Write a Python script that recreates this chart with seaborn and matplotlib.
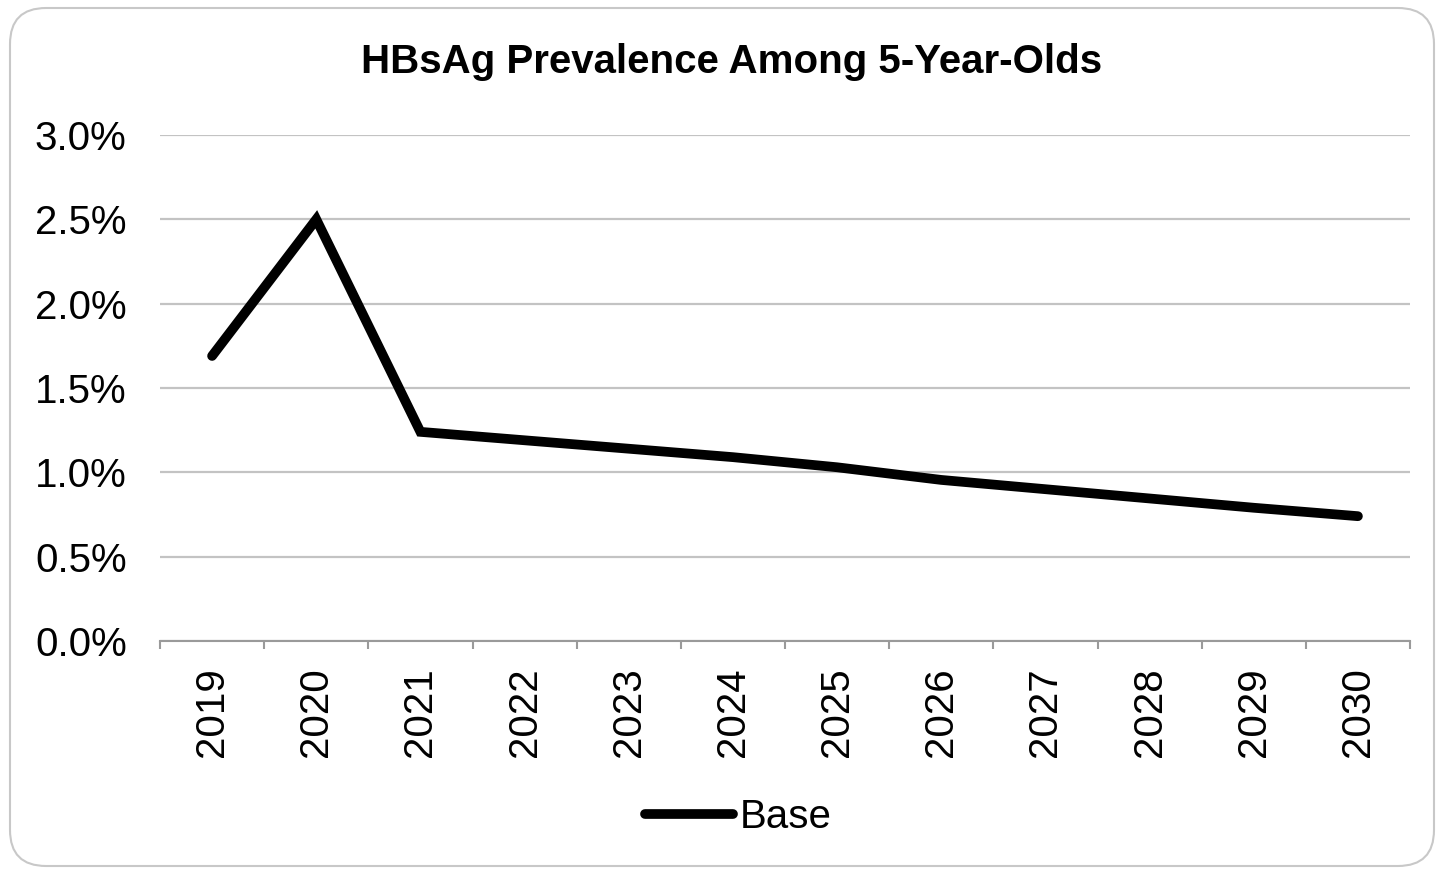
import matplotlib
matplotlib.use("Agg")
import matplotlib.pyplot as plt
from matplotlib.patches import FancyBboxPatch
from matplotlib.ticker import FuncFormatter, FixedLocator
import numpy as np
import pandas as pd
import seaborn as sns

years = [2019, 2020, 2021, 2022, 2023, 2024, 2025, 2026, 2027, 2028, 2029, 2030]
base = [0.0169, 0.0250, 0.0124, 0.0119, 0.0114, 0.0109, 0.0103,
        0.00955, 0.0090, 0.00845, 0.0079, 0.0074]
series_name = "Base"
title = "HBsAg Prevalence Among 5-Year-Olds"

df = pd.DataFrame({"Year": years, "Prevalence": base, "Scenario": series_name})

sns.set_theme(style="white")
plt.rcParams["font.family"] = ["Liberation Sans", "DejaVu Sans"]
plt.rcParams["text.color"] = "black"

FS = 29
W, H = 1443, 869

fig = plt.figure(figsize=(W / 100, H / 100), dpi=100)
ax = fig.add_axes([160 / W, 1 - 641 / H, 1250 / W, (641 - 135) / H])

sns.lineplot(data=df, x="Year", y="Prevalence", hue="Scenario",
             palette=["black"], linewidth=7, ax=ax, legend=False,
             solid_capstyle="round", solid_joinstyle="miter")

ax.set_xlim(years[0] - 0.5, years[-1] + 0.5)
ax.set_ylim(0, 0.03)
ax.set_yticks(np.arange(0, 0.0301, 0.005))
ax.yaxis.set_major_formatter(FuncFormatter(lambda v, p: f"{v * 100:.1f}%"))
ax.grid(axis="y", color="#c3c3c3", linewidth=1.6)
ax.set_axisbelow(True)

ax.set_xticks(years)
ax.set_xticklabels([str(y) for y in years], rotation=90)
ax.xaxis.set_minor_locator(FixedLocator(np.arange(years[0] - 0.5, years[-1] + 0.6, 1)))
ax.tick_params(axis="x", which="major", length=0, pad=19, labelsize=FS, labelcolor="black")
ax.tick_params(axis="x", which="minor", length=6, width=1.5, color="#9a9a9a", direction="out", bottom=True)
ax.tick_params(axis="y", length=0, pad=24, labelsize=FS, labelcolor="black")

for side in ["top", "right", "left"]:
    ax.spines[side].set_visible(False)
ax.spines["bottom"].set_color("#9a9a9a")
ax.spines["bottom"].set_linewidth(1.5)
ax.set_xlabel("")
ax.set_ylabel("")

fig.text(732 / W, 1 - 62 / H, title, ha="center", va="center",
         fontsize=FS, fontweight="bold", color="black")

handle = plt.Line2D([], [], color="black", linewidth=7, solid_capstyle="round")
fig.legend([handle], [series_name], loc="center", bbox_to_anchor=(738 / W, 1 - 817 / H),
           frameon=False, fontsize=FS, handlelength=2.2, handletextpad=0.15,
           borderaxespad=0, labelcolor="black")

# rounded chart-area frame
border = FancyBboxPatch((10 / W, 1 - 866 / H), 1424 / W, 858 / H,
                        boxstyle="round,pad=0,rounding_size=0.025",
                        transform=fig.transFigure, fill=False,
                        edgecolor="#c8c8c8", linewidth=1.5, clip_on=False,
                        mutation_aspect=W / H)
fig.patches.append(border)

fig.savefig("out.png", dpi=100)
